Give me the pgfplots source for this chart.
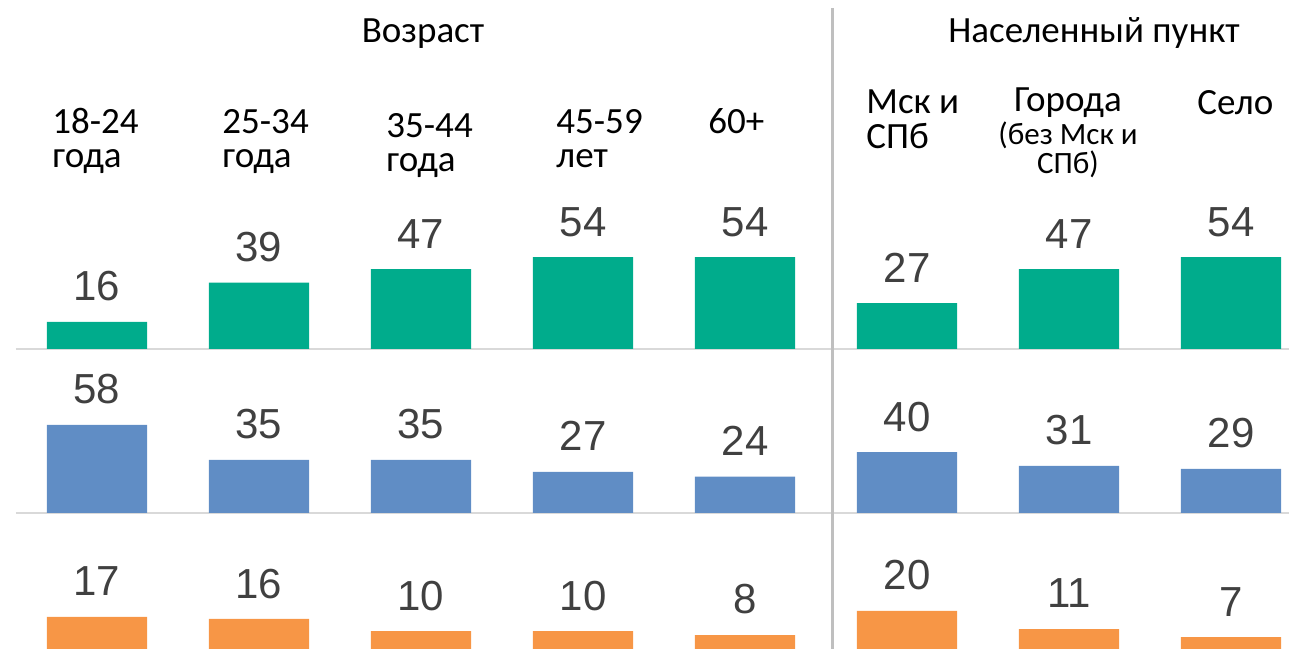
\documentclass[border=0pt]{standalone}
\usepackage{pgfplots}
\pgfplotsset{compat=1.18}
\usepackage{fontspec}
\setmainfont{Carlito}
\newfontfamily\numfont{Liberation Sans}
\definecolor{cgreen}{HTML}{00AC8C}
\definecolor{cblue}{HTML}{608DC5}
\definecolor{corange}{HTML}{F79646}
\definecolor{cval}{HTML}{404040}
\definecolor{cline}{HTML}{D9D9D9}
\definecolor{cdiv}{HTML}{BFBFBF}
\pgfplotsset{rowstyle/.style={
  scale only axis, width=636.5pt, xmin=-0.5, xmax=7.358, ymin=0,
  axis x line=bottom, axis y line=none,
  x axis line style={-, draw=cline, line width=1pt},
  xtick=\empty, ytick=\empty,
  ybar, bar width=0.62, clip=false, anchor=south west,
  /pgf/number format/assume math mode=true,
  nodes near coords,
  every node near coord/.append style={anchor=base, yshift=10.5pt, inner sep=0pt,
    font=\numfont\fontsize{21}{21}\selectfont, text=cval},
}}
\newcommand{\lab}{\fontsize{18.5}{18.5}\selectfont}
\newcommand{\slab}{\fontsize{15.5}{12.5}\selectfont}
\begin{document}
\begin{tikzpicture}
\useasboundingbox (0,0) rectangle (644.5pt,324pt);
% green row
\begin{axis}[rowstyle, at={(8pt,149.5pt)}, height=75pt, ymax=88.2]
\addplot[fill=cgreen, draw=none] coordinates {(0,16) (1,39) (2,47) (3,54) (4,54) (5,27) (6,47) (7,54)};
\end{axis}
% blue row
\begin{axis}[rowstyle, at={(8pt,67.5pt)}, height=75pt, ymax=98.7]
\addplot[fill=cblue, draw=none] coordinates {(0,58) (1,35) (2,35) (3,27) (4,24) (5,40) (6,31) (7,29)};
\end{axis}
% orange row
\begin{axis}[rowstyle, at={(8pt,-1.5pt)}, height=65pt, ymax=65,
  x axis line style={draw=none}]
\addplot[fill=corange, draw=none] coordinates {(0,17) (1,16) (2,10) (3,10) (4,8) (5,20) (6,11) (7,7)};
\end{axis}
% divider
\draw[cdiv, line width=1.5pt] (416pt,320pt) -- (416pt,-2pt);
% titles
\node[anchor=base, inner sep=0pt, font=\lab] at (211.5pt,302.5pt) {Возраст};
\node[anchor=base, inner sep=0pt, font=\lab] at (547pt,302.5pt) {Населенный пункт};
% category labels
\begin{scope}[every node/.style={anchor=base west, inner sep=0pt, font=\lab}]
\node at (26pt,257pt) {18-24};
\node at (26pt,240pt) {года};
\node at (111pt,257pt) {25-34};
\node at (111pt,240pt) {года};
\node at (193pt,255pt) {35-44};
\node at (193pt,238pt) {года};
\node at (278pt,257pt) {45-59};
\node at (278pt,240pt) {лет};
\node at (354pt,257pt) {60+};
\node at (433pt,267pt) {Мск и};
\node at (433pt,249.5pt) {СПб};
\node at (598.5pt,266.5pt) {Село};
\end{scope}
\node[anchor=base, inner sep=0pt, font=\lab] at (534pt,268pt) {Города};
\node[anchor=north, inner sep=0pt, align=center, font=\slab] at (534pt,263.4pt) {(без Мск и\\СПб)};
\end{tikzpicture}
\end{document}
